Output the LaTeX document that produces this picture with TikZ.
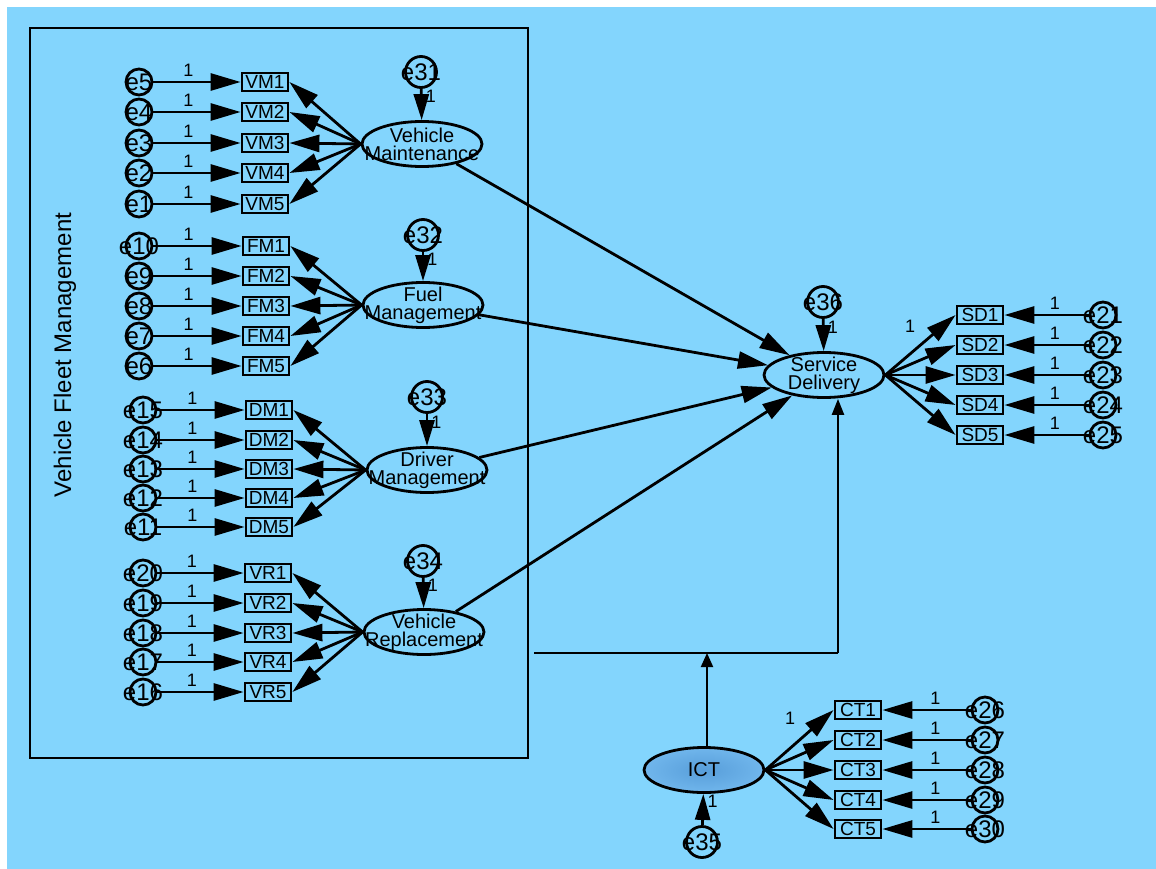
\documentclass[tikz,border=0pt]{standalone}
\usepackage{fontspec}
\setmainfont{Liberation Sans}
\usetikzlibrary{shapes.geometric,arrows.meta}
\definecolor{bgblue}{RGB}{131,213,253}
\definecolor{ictin}{RGB}{88,158,218}
\definecolor{ictout}{RGB}{112,182,236}
\tikzset{
  x=1pt,y=-1pt,
  ln/.style={line width=2.8pt,draw=black},
  arr/.style={ln,-{Triangle[length=30pt,width=17pt]}},
  sarr/.style={ln,-{Triangle[length=26pt,width=15pt]}},
  ind/.style={rectangle,ln,minimum width=46pt,minimum height=18pt,inner sep=0pt,font=\fontsize{19}{19}\selectfont},
  lat/.style={ellipse,ln,minimum width=120pt,minimum height=45pt,inner sep=0pt},
  lattext/.style={align=center,inner sep=0pt,font=\fontsize{20}{18}\selectfont},
  err/.style={circle,ln,minimum size=26pt,inner sep=0pt},
  serr/.style={circle,ln,minimum size=31pt,inner sep=0pt},
  elab/.style={inner sep=0pt,font=\fontsize{24}{24}\selectfont},
  one/.style={inner sep=0pt,font=\fontsize{18}{18}\selectfont},
}
\begin{document}
\begin{tikzpicture}
\useasboundingbox (0,0) rectangle (1156,869);
\fill[white] (0,0) rectangle (1156,869);
\fill[bgblue] (7,7) rectangle (1156,869);
% frame
\draw[line width=2.4pt] (30,28) rectangle (528,758);
\node[rotate=90,font=\fontsize{24}{24}\selectfont] (title) at (65,355) {Vehicle Fleet Management};
% ---------- Vehicle Maintenance ----------
\node[lat] (VM) at (422,144) {};
\node[lattext] at (VM) {Vehicle\\Maintenance};
\node[serr,label={[elab]center:e31}] (e31) at (421,72) {};
\draw[sarr] (e31) -- (VM) node[one,pos=0.25,right=3pt] {1};
\foreach \i/\y/\e in {1/82/e5,2/112/e4,3/143/e3,4/173/e2,5/204/e1}{
  \node[ind] (VM\i) at (265,\y) {VM\i};
  \node[err,label={[elab]center:\e}] (\e) at (139,\y) {};
  \draw[arr] (\e) -- (VM\i) node[one,pos=0.4,above=4pt] {1};
  \draw[arr] (VM.west) -- (VM\i.east);
}
% ---------- Fuel Management ----------
\node[lat] (FM) at (423,305) {};
\node[lattext] at (FM) {Fuel\\Management};
\node[serr,label={[elab]center:e32}] (e32) at (423,235) {};
\draw[sarr] (e32) -- (FM) node[one,pos=0.25,right=3pt] {1};
\foreach \i/\y/\e in {1/246/e10,2/276/e9,3/306/e8,4/336/e7,5/366/e6}{
  \node[ind] (FM\i) at (266,\y) {FM\i};
  \node[err,label={[elab]center:\e}] (\e) at (139,\y) {};
  \draw[arr] (\e) -- (FM\i) node[one,pos=0.4,above=4pt] {1};
  \draw[arr] (FM.west) -- (FM\i.east);
}
% ---------- Driver Management ----------
\node[lat] (DM) at (427,470) {};
\node[lattext] at (DM) {Driver\\Management};
\node[serr,label={[elab]center:e33}] (e33) at (427,397) {};
\draw[sarr] (e33) -- (DM) node[one,pos=0.25,right=3pt] {1};
\foreach \i/\y/\e in {1/410/e15,2/440/e14,3/469/e13,4/498/e12,5/527/e11}{
  \node[ind] (DM\i) at (269,\y) {DM\i};
  \node[err,label={[elab]center:\e}] (\e) at (143,\y) {};
  \draw[arr] (\e) -- (DM\i) node[one,pos=0.4,above=4pt] {1};
  \draw[arr] (DM.west) -- (DM\i.east);
}
% ---------- Vehicle Replacement ----------
\node[lat] (VR) at (424,632) {};
\node[lattext] at (VR) {Vehicle\\Replacement};
\node[serr,label={[elab]center:e34}] (e34) at (423,561) {};
\draw[sarr] (e34) -- (VR) node[one,pos=0.25,right=3pt] {1};
\foreach \i/\y/\e in {1/573/e20,2/603/e19,3/633/e18,4/662/e17,5/692/e16}{
  \node[ind] (VR\i) at (268,\y) {VR\i};
  \node[err,label={[elab]center:\e}] (\e) at (143,\y) {};
  \draw[arr] (\e) -- (VR\i) node[one,pos=0.4,above=4pt] {1};
  \draw[arr] (VR.west) -- (VR\i.east);
}
% ---------- Service Delivery ----------
\node[lat] (SD) at (824,375) {};
\node[lattext] at (SD) {Service\\Delivery};
\node[serr,label={[elab]center:e36}] (e36) at (823,302) {};
\draw[sarr] (e36) -- (SD) node[one,pos=0.25,right=3pt] {1};
\foreach \i/\y/\e in {1/315/e21,2/345/e22,3/375/e23,4/405/e24,5/435/e25}{
  \node[ind] (SD\i) at (980,\y) {SD\i};
  \node[err,label={[elab]center:\e}] (\e) at (1103,\y) {};
  \draw[arr] (\e) -- (SD\i) node[one,pos=0.4,above=4pt] {1};
  \draw[arr] (SD.east) -- (SD\i.west);
}
\node[one] (sdone) at (910,326) {1};
\foreach \L in {VM,FM,DM,VR}{\draw[arr] (\L) -- (SD);}
% ---------- ICT ----------
\node[lat,inner color=ictin,outer color=ictout] (ICT) at (704,770) {};
\node[lattext] at (ICT) {ICT};
\node[serr,label={[elab]center:e35}] (e35) at (702,842) {};
\draw[sarr] (e35) -- (ICT) node[one,pos=0.75,right=3pt] {1};
\foreach \i/\y/\e in {1/710/e26,2/740/e27,3/770/e28,4/800/e29,5/829/e30}{
  \node[ind] (CT\i) at (858,\y) {CT\i};
  \node[err,label={[elab]center:\e}] (\e) at (985,\y) {};
  \draw[arr] (\e) -- (CT\i) node[one,pos=0.4,above=4pt] {1};
  \draw[arr] (ICT.east) -- (CT\i.west);
}
\node[one] (ctone) at (790,718) {1};
% moderation line
\coordinate (mL) at (534,653);
\coordinate (mR) at (838,653);
\coordinate (mI) at (707,653);
\draw[line width=2.4pt] (mL) -- (mR);
\draw[line width=2.4pt,-{Triangle[length=16pt,width=12pt]}] (mR) -- (SD.south -| mR);
\draw[line width=2pt,-{Triangle[length=14pt,width=12pt]}] (ICT.north -| mI) -- (mI);
\end{tikzpicture}
\end{document}
